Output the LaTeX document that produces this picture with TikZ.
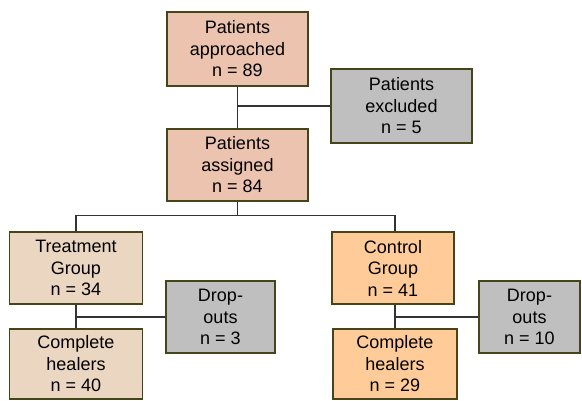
\documentclass[tikz,border=0pt]{standalone}
\usepackage{fontspec}
\setmainfont{Liberation Sans}
\usepackage{xcolor}
\usepackage{tikz}
\definecolor{salmon}{HTML}{EBC3AE}
\definecolor{sand}{HTML}{EBD6C1}
\definecolor{peach}{HTML}{FFCC99}
\definecolor{greybox}{HTML}{BFBFBF}
\definecolor{olive}{HTML}{45451A}
\definecolor{wire}{HTML}{333333}

\begin{document}
\begin{tikzpicture}[x=1pt,y=-1pt,
  box/.style={draw=olive, line width=1.5pt, align=center, inner sep=0pt,
    font=\fontsize{18}{21.5}\selectfont, minimum height=72pt},
  link/.style={draw=wire, line width=1.4pt},
]
\useasboundingbox (0,0) rectangle (582,401);
% top column
\node[box, fill=salmon, minimum width=141pt, minimum height=74pt] (appr) at (237.5,49) {Patients\\approached\\n = 89};
\node[box, fill=greybox, minimum width=141pt, minimum height=74pt] (excl) at (401.5,106) {Patients\\excluded\\n = 5};
\node[box, fill=salmon, minimum width=141pt] (asgn) at (237.5,165) {Patients\\assigned\\n = 84};
% treatment arm
\node[box, fill=sand, minimum width=133pt] (treat) at (76,268) {Treatment\\Group\\n = 34};
\node[box, fill=greybox, minimum width=109pt] (drop1) at (220.5,317) {Drop-\\outs\\n = 3};
\node[box, fill=sand, minimum width=133pt, minimum height=70pt] (heal1) at (76,364) {Complete\\healers\\n = 40};
% control arm
\node[box, fill=peach, minimum width=122pt] (ctrl) at (393,268) {Control\\Group\\n = 41};
\node[box, fill=greybox, minimum width=101pt] (drop2) at (529.5,317) {Drop-\\outs\\n = 10};
\node[box, fill=peach, minimum width=124pt, minimum height=70pt] (heal2) at (395,364) {Complete\\healers\\n = 29};
% connectors
\draw[link] (appr.south) -- (asgn.north);
\draw[link] (appr.south |- excl.west) -- (excl.west);
\draw[link] (asgn.south) -- ++(0,14) coordinate (split);
\draw[link] (treat.north) |- (split) -| (heal2.north |- ctrl.north);
\draw[link] (treat.south) -- (heal1.north);
\draw[link] (treat.south |- drop1.west) -- (drop1.west);
\draw[link] (heal2.north |- ctrl.south) -- (heal2.north);
\draw[link] (heal2.north |- drop2.west) -- (drop2.west);
\end{tikzpicture}
\end{document}
